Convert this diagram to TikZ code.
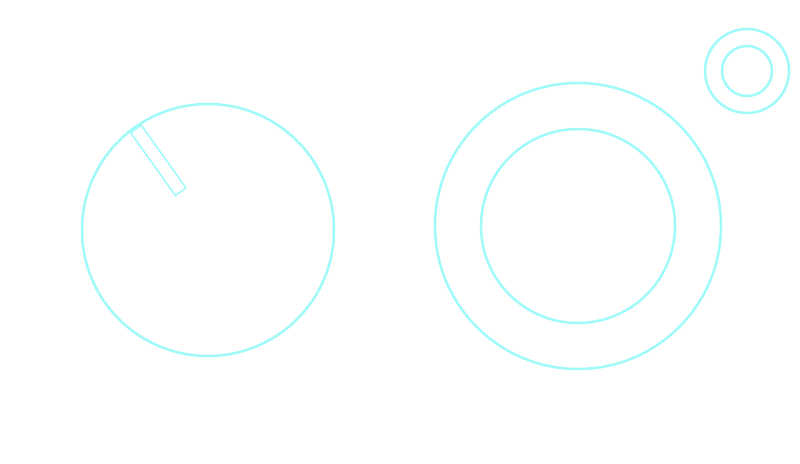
\documentclass[tikz,border=0pt]{standalone}
\definecolor{ring}{RGB}{160,250,250}
\begin{document}
\begin{tikzpicture}[x=1pt,y=-1pt,
  ringline/.style={draw=ring,line width=2.5pt},
  thinline/.style={draw=ring,line width=1.5pt,line join=miter}]
\useasboundingbox[fill=white] (0,0) rectangle (800,463);
% left knob
\draw[ringline] (208,230) circle[radius=126];
\draw[thinline] (186.0,187.9) -- (175.4,195.5) -- (130.7,132.8) -- (141.3,125.2) -- cycle;
% large ring
\draw[ringline] (578,226) circle[radius=143];
\draw[ringline] (578,226) circle[radius=97];
% small ring
\draw[ringline] (747,71) circle[radius=42];
\draw[ringline] (747,71) circle[radius=25];
\end{tikzpicture}
\end{document}
